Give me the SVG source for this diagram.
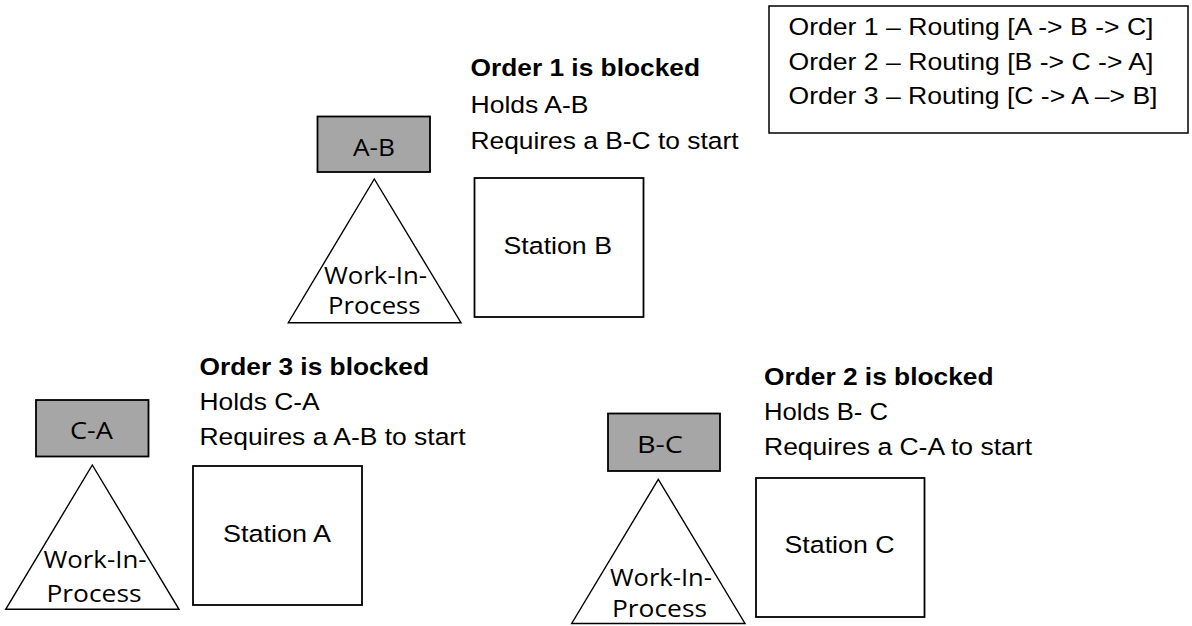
<svg xmlns="http://www.w3.org/2000/svg" width="1192" height="626" viewBox="0 0 1192 626">
<style>
.bg{fill:#ffffff}
.station{fill:#ffffff;stroke:#000;stroke-width:1.8}
.hold{fill:#a6a6a6;stroke:#000;stroke-width:1.8}
.wip{fill:#ffffff;stroke:#000;stroke-width:1.4;stroke-linejoin:miter}
.legend{fill:#ffffff;stroke:#000;stroke-width:1.5}
.t{font-family:"Liberation Sans",Arial,sans-serif;font-size:24.5px;fill:#000}
.b{font-weight:bold}
.c{font-family:"Open Sans","Liberation Sans",sans-serif;font-size:23px;fill:#000}
.w{font-family:"Open Sans","Liberation Sans",sans-serif;font-size:23px;fill:#000}
</style>
<rect class="bg" x="0" y="0" width="1192" height="626"/>
<g id="legend">
<rect class="legend" x="769" y="6" width="419" height="127"/>
<text class="t" x="788.5" y="35" textLength="365" lengthAdjust="spacingAndGlyphs">Order 1 – Routing [A -&gt; B -&gt; C]</text>
<text class="t" x="788.5" y="69.5" textLength="365" lengthAdjust="spacingAndGlyphs">Order 2 – Routing [B -&gt; C -&gt; A]</text>
<text class="t" x="788.5" y="104" textLength="369" lengthAdjust="spacingAndGlyphs">Order 3 – Routing [C -&gt; A –&gt; B]</text>
</g>
<g id="order1-note">
<text class="t b" x="470.5" y="76" textLength="229.5" lengthAdjust="spacingAndGlyphs">Order 1 is blocked</text>
<text class="t" x="470.5" y="113" textLength="118" lengthAdjust="spacingAndGlyphs">Holds A-B</text>
<text class="t" x="470.5" y="148.5" textLength="268" lengthAdjust="spacingAndGlyphs">Requires a B-C to start</text>
</g>
<g id="order3-note">
<text class="t b" x="199.5" y="375" textLength="229.5" lengthAdjust="spacingAndGlyphs">Order 3 is blocked</text>
<text class="t" x="199.5" y="410" textLength="120" lengthAdjust="spacingAndGlyphs">Holds C-A</text>
<text class="t" x="199.5" y="445" textLength="266" lengthAdjust="spacingAndGlyphs">Requires a A-B to start</text>
</g>
<g id="order2-note">
<text class="t b" x="764" y="385" textLength="229.5" lengthAdjust="spacingAndGlyphs">Order 2 is blocked</text>
<text class="t" x="764" y="420" textLength="124" lengthAdjust="spacingAndGlyphs">Holds B- C</text>
<text class="t" x="764" y="455" textLength="268" lengthAdjust="spacingAndGlyphs">Requires a C-A to start</text>
</g>
<g id="station-b">
<rect class="station" x="474.5" y="178" width="169" height="139"/>
<text class="t" x="503.5" y="254" textLength="108.5" lengthAdjust="spacingAndGlyphs">Station B</text>
</g>
<g id="station-a">
<rect class="station" x="193" y="466" width="169" height="139"/>
<text class="t" x="223" y="541.5" textLength="108" lengthAdjust="spacingAndGlyphs">Station A</text>
</g>
<g id="station-c">
<rect class="station" x="756" y="478" width="168.5" height="139"/>
<text class="t" x="784.5" y="553" textLength="110" lengthAdjust="spacingAndGlyphs">Station C</text>
</g>
<g id="hold-ab">
<rect class="hold" x="317.5" y="116.5" width="112.5" height="55.5"/>
<text class="c" x="353" y="156" textLength="42" lengthAdjust="spacingAndGlyphs">A-B</text>
</g>
<g id="hold-ca">
<rect class="hold" x="36" y="400" width="112.5" height="56.5"/>
<text class="c" x="70" y="439.3" textLength="43" lengthAdjust="spacingAndGlyphs">C-A</text>
</g>
<g id="hold-bc">
<rect class="hold" x="608" y="413.5" width="112" height="57.5"/>
<text class="c" x="637" y="452.7" textLength="46" lengthAdjust="spacingAndGlyphs">B-C</text>
</g>
<g id="wip-ab">
<polygon class="wip" points="374.3,179 461,322.7 288.3,322.7"/>
<text class="w" x="324" y="284" textLength="103" lengthAdjust="spacingAndGlyphs">Work-In-</text>
<text class="w" x="328" y="314.3" textLength="92.5" lengthAdjust="spacingAndGlyphs">Process</text>
</g>
<g id="wip-ca">
<polygon class="wip" points="92.3,465 179,609.3 5.7,609.3"/>
<text class="w" x="43.5" y="568" textLength="103" lengthAdjust="spacingAndGlyphs">Work-In-</text>
<text class="w" x="46.5" y="601.5" textLength="95" lengthAdjust="spacingAndGlyphs">Process</text>
</g>
<g id="wip-bc">
<polygon class="wip" points="658.3,479.3 745,623.5 571.7,623.5"/>
<text class="w" x="610" y="586" textLength="102" lengthAdjust="spacingAndGlyphs">Work-In-</text>
<text class="w" x="612" y="616.5" textLength="95" lengthAdjust="spacingAndGlyphs">Process</text>
</g>
<g id="connectors"></g>
</svg>
